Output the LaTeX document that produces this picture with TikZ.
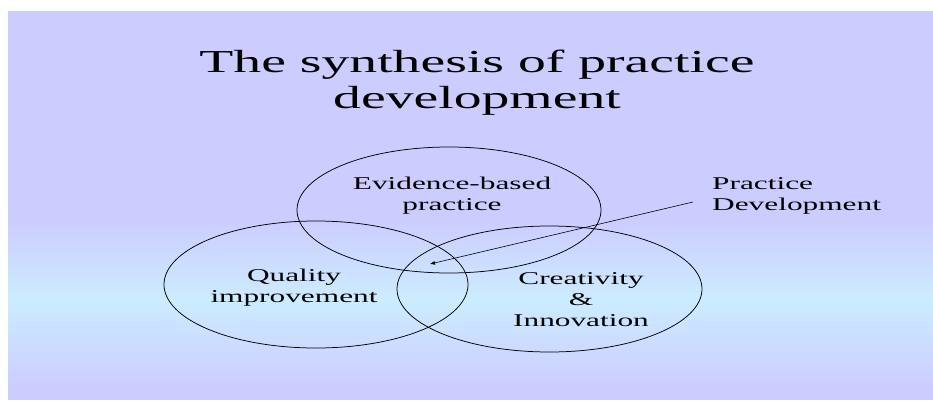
\documentclass[tikz,border=0pt]{standalone}
\usepackage{fontspec}
\setmainfont[FakeStretch=1.74]{Liberation Serif}
\usetikzlibrary{arrows.meta}
\definecolor{lav}{RGB}{204,204,255}
\definecolor{skyb}{RGB}{204,236,255}
\begin{document}
\begin{tikzpicture}[x=1pt,y=1pt,
  venn/.style={draw=black,line width=0.75pt},
  bodytxt/.style={align=center,font=\fontsize{18}{21}\selectfont,inner sep=0pt},
  titletxt/.style={align=center,font=\fontsize{32}{36}\selectfont,inner sep=0pt},
  pointer/.style={draw=black,line width=0.6pt,-{Latex[length=5pt,width=4pt]}}]
\useasboundingbox (0,0) rectangle (933,400);
\fill[white] (0,0) rectangle (933,400);
% background gradient
\fill[lav] (8,389) rectangle (933,180);
\shade[top color=lav,bottom color=skyb] (8,180.5) rectangle (933,100);
\shade[top color=skyb,bottom color=lav] (8,100.5) rectangle (933,10);
\fill[lav] (8,10.5) rectangle (933,0);
% title (base = last line)
\node[titletxt,anchor=base] (title) at (477,292) {The synthesis of practice\\development};
% ellipses
\draw[venn] (449,190) ellipse [x radius=152,y radius=63];
\draw[venn] (316,115.5) ellipse [x radius=152,y radius=63.5];
\draw[venn] (549.5,111) ellipse [x radius=152.5,y radius=63];
% labels (base = last line)
\node[bodytxt,anchor=base] (ebp) at (452,190) {Evidence-based\\practice};
\node[bodytxt,anchor=base] (qi) at (294,98) {Quality\\improvement};
\node[bodytxt,anchor=base] (ci) at (581,73.3) {Creativity\\\&\\Innovation};
\node[bodytxt,anchor=base west,align=left] (pd) at (712,190) {Practice\\Development};
% pointer
\coordinate (pdstart) at (693,198);
\coordinate (pdtip) at (430,136);
\draw[pointer] (pdstart) -- (pdtip);
\end{tikzpicture}
\end{document}
